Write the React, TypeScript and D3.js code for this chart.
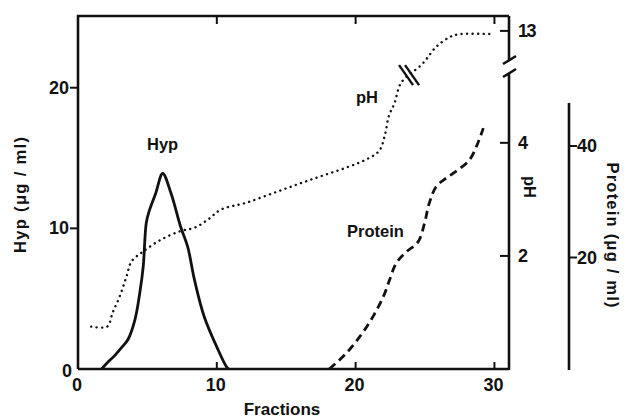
import React, { useEffect, useRef } from 'react'
import * as d3 from 'd3'

const fractionTicks = [0, 10, 20, 30]
const hypTicks = [0, 10, 20]
const phTicks = [2, 4, 13]
const proteinTicks = [20, 40]

// Hyp (ug/ml) vs fraction
const hypFrac = [1.7, 2.16, 2.64, 3.12, 3.6, 4.1, 4.45, 4.7, 4.92, 5.15, 5.6, 6.1, 6.7, 7.4, 7.9, 8.4, 9.1, 10.1, 10.7, 10.85]
const hypVal = [0, 0.5, 0.95, 1.5, 2.1, 3.5, 5.4, 7.3, 10.4, 11.3, 12.5, 13.9, 12.5, 10.1, 8.7, 6.3, 3.7, 1.35, 0.15, 0]

// pH vs fraction (axis is broken between ~5 and ~12.4)
const phFrac = [0.95, 2.1, 2.5, 3.0, 3.5, 3.85, 4.7, 6.0, 7.4, 8.4, 9.4, 10.3, 12.1, 14.5, 16.9, 19.3, 20.8, 21.7, 22.1, 22.4, 22.8, 23.3, 24.8, 25.8, 26.8, 27.5, 29.9]
const phVal = [0.75, 0.75, 1.0, 1.28, 1.64, 1.9, 2.08, 2.29, 2.44, 2.5, 2.65, 2.82, 2.94, 3.15, 3.36, 3.56, 3.71, 3.86, 4.13, 4.48, 4.7, 5.07, 12.4, 12.71, 12.89, 12.94, 12.94]

// Protein (ug/ml) vs fraction
const protFrac = [18.1, 19.2, 20.3, 21.25, 22.0, 22.45, 22.93, 23.65, 24.5, 24.96, 25.3, 25.8, 26.5, 27.2, 28.2, 28.8, 29.2]
const protVal = [0, 2.5, 5.8, 9.4, 13.0, 16.0, 19.0, 21.0, 22.8, 26.1, 29.7, 32.7, 34.2, 35.4, 37.5, 40.5, 43.2]

const FONT = '"Liberation Sans", Arial, sans-serif'

function App() {
    const ref = useRef<SVGSVGElement>(null)
    const width = 629
    const height = 418
    const margin = { top: 16, left: 78, right: 120, bottom: 49 }

    useEffect(() => {
        const svg = d3.select(ref.current)
        svg.selectAll('*').remove()

        const x = d3.scaleLinear().domain([0, 31.05]).range([margin.left, width - margin.right])
        const yHyp = d3.scaleLinear().domain([0, 25.1]).range([height - margin.bottom, margin.top])
        const yPh = d3.scaleLinear().domain([0, 5.2, 12.4, 13.27]).range([height - margin.bottom, 75, 64, margin.top])
        const yProt = d3.scaleLinear().domain([0, 40]).range([height - margin.bottom, 146])

        const x0 = x.range()[0], x1 = x.range()[1]
        const yb = height - margin.bottom, yt = margin.top
        const ink = '#111'
        const g = svg.append('g')

        // frame: left, top, bottom
        g.append('path')
            .attr('d', `M${x0},${yb}V${yt}H${x1}M${x0},${yb}H${x1}`)
            .attr('fill', 'none').attr('stroke', ink).attr('stroke-width', 2.6)

        // right pH axis, with a break
        g.append('path')
            .attr('d', `M${x1},${yt}V60M${x1 - 6},64L${x1 + 7},56M${x1 - 6},77L${x1 + 7},69M${x1},73V${yb + 1}`)
            .attr('fill', 'none').attr('stroke', ink).attr('stroke-width', 2.6)

        // x ticks top and bottom (inward)
        fractionTicks.filter(d => d > 0).forEach(d => {
            g.append('line').attr('x1', x(d)).attr('x2', x(d)).attr('y1', yb).attr('y2', yb - 7)
                .attr('stroke', ink).attr('stroke-width', 2)
            g.append('line').attr('x1', x(d)).attr('x2', x(d)).attr('y1', yt).attr('y2', yt + 8)
                .attr('stroke', ink).attr('stroke-width', 2)
        })
        g.selectAll('.xlab').data(fractionTicks).join('text')
            .attr('x', d => x(d) - 1).attr('y', yb + 22)
            .attr('text-anchor', 'middle')
            .attr('font-family', FONT).attr('font-weight', 'bold').attr('font-size', 18)
            .attr('fill', ink).text(d => d)

        // left Hyp axis
        hypTicks.filter(d => d > 0).forEach(d => {
            g.append('line').attr('x1', x0 - 8).attr('x2', x0).attr('y1', yHyp(d)).attr('y2', yHyp(d))
                .attr('stroke', ink).attr('stroke-width', 2)
        })
        g.selectAll('.ylab').data(hypTicks).join('text')
            .attr('x', d => d === 0 ? x0 - 6 : x0 - 9).attr('y', d => yHyp(d) + (d === 0 ? 8 : 6))
            .attr('text-anchor', 'end')
            .attr('font-family', FONT).attr('font-weight', 'bold').attr('font-size', 18)
            .attr('fill', ink).text(d => d)

        // right pH ticks (inward)
        phTicks.forEach(d => {
            g.append('line').attr('x1', x1 - 9).attr('x2', x1).attr('y1', yPh(d)).attr('y2', yPh(d))
                .attr('stroke', ink).attr('stroke-width', 2)
        })
        g.selectAll('.phlab').data(phTicks).join('text')
            .attr('x', x1 + 9).attr('y', d => yPh(d) + 6)
            .attr('font-family', FONT).attr('font-weight', 'bold').attr('font-size', 18)
            .attr('letter-spacing', -1.5)
            .attr('fill', ink).text(d => d)

        // separate protein axis
        const px = 569
        g.append('line').attr('x1', px).attr('x2', px).attr('y1', 103).attr('y2', yb + 1)
            .attr('stroke', ink).attr('stroke-width', 2.6)
        proteinTicks.forEach(d => {
            g.append('line').attr('x1', px).attr('x2', px + 8).attr('y1', yProt(d)).attr('y2', yProt(d))
                .attr('stroke', ink).attr('stroke-width', 2)
        })
        g.selectAll('.prlab').data(proteinTicks).join('text')
            .attr('x', px + 8).attr('y', d => yProt(d) + 6)
            .attr('font-family', FONT).attr('font-weight', 'bold').attr('font-size', 18)
            .attr('fill', ink).text(d => d)

        // curves
        const hypLine = d3.line<number>().x(i => x(hypFrac[i])).y(i => yHyp(hypVal[i])).curve(d3.curveCatmullRom.alpha(0.5))
        g.append('path').attr('d', hypLine(d3.range(hypFrac.length)))
            .attr('fill', 'none').attr('stroke', ink).attr('stroke-width', 2.8).attr('stroke-linejoin', 'miter')

        const phLine = d3.line<number>().x(i => x(phFrac[i])).y(i => yPh(phVal[i])).curve(d3.curveCatmullRom.alpha(0.5))
        g.append('path').attr('d', phLine(d3.range(phFrac.length)))
            .attr('fill', 'none').attr('stroke', ink).attr('stroke-width', 2.4)
            .attr('stroke-linecap', 'round').attr('stroke-dasharray', '0.1 5.4')

        const protLine = d3.line<number>().x(i => x(protFrac[i])).y(i => yProt(protVal[i])).curve(d3.curveCatmullRom.alpha(0.5))
        g.append('path').attr('d', protLine(d3.range(protFrac.length)))
            .attr('fill', 'none').attr('stroke', ink).attr('stroke-width', 2.8)
            .attr('stroke-dasharray', '8 5')

        // break marks on the pH curve
        const bx = x(23.85), by = (yPh(5.07) + yPh(12.4)) / 2 + 2
        ;[-3, 3].forEach(o => {
            g.append('line').attr('x1', bx + o - 7).attr('y1', by - 10).attr('x2', bx + o + 7).attr('y2', by + 10)
                .attr('stroke', ink).attr('stroke-width', 2.4)
        })

        // curve labels
        const label = (t: string, lx: number, ly: number, size = 16.5) =>
            g.append('text').attr('x', lx).attr('y', ly)
                .attr('font-family', FONT).attr('font-weight', 'bold').attr('font-size', size)
                .attr('fill', ink).text(t)
        label('Hyp', 147, 150)
        label('pH', 356, 103)
        label('Protein', 347, 237)

        // axis titles
        g.append('text').attr('x', 282).attr('y', 415).attr('text-anchor', 'middle')
            .attr('font-family', FONT).attr('font-weight', 'bold').attr('font-size', 17)
            .attr('fill', ink).text('Fractions')

        g.append('text').attr('transform', `translate(26,195) rotate(-90)`).attr('text-anchor', 'middle')
            .attr('font-family', FONT).attr('font-weight', 'bold').attr('font-size', 16.5)
            .attr('textLength', 116).attr('lengthAdjust', 'spacing')
            .attr('fill', ink).text('Hyp (μg / ml)')

        g.append('text').attr('transform', `translate(524,187) rotate(90)`).attr('text-anchor', 'middle')
            .attr('font-family', FONT).attr('font-weight', 'bold').attr('font-size', 16.5)
            .attr('fill', ink).text('pH')

        g.append('text').attr('transform', `translate(607,235) rotate(90)`).attr('text-anchor', 'middle')
            .attr('font-family', FONT).attr('font-weight', 'bold').attr('font-size', 16.5)
            .attr('textLength', 145).attr('lengthAdjust', 'spacing')
            .attr('fill', ink).text('Protein (μg / ml)')
    }, [])

    return (
        <svg ref={ref} width={width} height={height}
            style={{ position: 'absolute', left: 0, top: 0, background: '#fff' }} />
    )
}

export default App
